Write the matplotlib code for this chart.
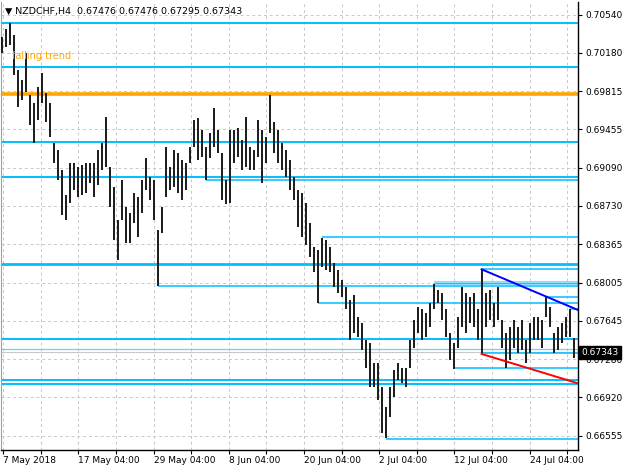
import matplotlib.pyplot as plt
from matplotlib.transforms import blended_transform_factory

plt.rcParams['font.family'] = ['DejaVu Sans']

# --- data (one bar per ~10h slot, prices in NZDCHF) ---
symbol = "NZDCHF,H4"
last_ohlc = [0.67476, 0.67476, 0.67295, 0.67343]

highs = [
    0.7033, 0.7040, 0.7046, 0.7035, 0.7002, 0.6992, 0.7018, 0.6978, 0.6970, 0.6986,
    0.6999, 0.6980, 0.6970, 0.6933, 0.6926, 0.6907, 0.6883, 0.6914, 0.6914, 0.6910,
    0.6912, 0.6914, 0.6914, 0.6914, 0.6926, 0.6933, 0.6957, 0.6910, 0.6891, 0.6860,
    0.6898, 0.6872, 0.6866, 0.6885, 0.6881, 0.6898, 0.6918, 0.6900, 0.6898, 0.6850,
    0.6872, 0.6929, 0.6910, 0.6926, 0.6923, 0.6916, 0.6914, 0.6929, 0.6954, 0.6956,
    0.6945, 0.6929, 0.6942, 0.6966, 0.6945, 0.6923, 0.6898, 0.6945, 0.6945, 0.6947,
    0.6935, 0.6957, 0.6929, 0.6926, 0.6954, 0.6945, 0.6938, 0.6978, 0.6952, 0.6945,
    0.6933, 0.6926, 0.6916, 0.6900, 0.6888, 0.6885, 0.6876, 0.6857, 0.6834, 0.6831,
    0.6843, 0.6841, 0.6834, 0.6819, 0.6812, 0.6803, 0.6796, 0.6784, 0.6789, 0.6768,
    0.6762, 0.6746, 0.6743, 0.6724, 0.6724, 0.6702, 0.6683, 0.6702, 0.6718, 0.6724,
    0.6720, 0.6720, 0.6746, 0.6765, 0.6777, 0.6775, 0.6772, 0.6781, 0.6799, 0.6793,
    0.6791, 0.6775, 0.6753, 0.6743, 0.6768, 0.6796, 0.6791, 0.6787, 0.6791, 0.6775,
    0.6813, 0.6791, 0.6793, 0.6781, 0.6796, 0.6765, 0.6753, 0.6758, 0.6765, 0.6758,
    0.6765, 0.6746, 0.6762, 0.6768, 0.6768, 0.6765, 0.6787, 0.6777, 0.6753, 0.6758,
    0.6762, 0.6768, 0.6775, 0.67476,
]
lows = [
    0.7018, 0.7023, 0.7025, 0.6997, 0.6967, 0.6973, 0.6981, 0.6950, 0.6933, 0.6954,
    0.6970, 0.6952, 0.6938, 0.6914, 0.6898, 0.6864, 0.6860, 0.6876, 0.6888, 0.6881,
    0.6883, 0.6885, 0.6895, 0.6881, 0.6893, 0.6907, 0.6910, 0.6872, 0.6841, 0.6822,
    0.6860, 0.6838, 0.6838, 0.6857, 0.6844, 0.6866, 0.6888, 0.6879, 0.6860, 0.6797,
    0.6847, 0.6881, 0.6888, 0.6891, 0.6885, 0.6879, 0.6888, 0.6914, 0.6929, 0.6916,
    0.6919, 0.6898, 0.6918, 0.6929, 0.6923, 0.6879, 0.6875, 0.6876, 0.6914, 0.6919,
    0.6907, 0.6910, 0.6907, 0.6907, 0.6919, 0.6895, 0.6914, 0.6942, 0.6923, 0.6914,
    0.6907, 0.6900, 0.6888, 0.6879, 0.6853, 0.6844, 0.6836, 0.6825, 0.6810, 0.6781,
    0.6815, 0.6812, 0.6810, 0.6796, 0.6791, 0.6787, 0.6775, 0.6746, 0.6753, 0.6749,
    0.6737, 0.6720, 0.6702, 0.6702, 0.6689, 0.6658, 0.6653, 0.6673, 0.6692, 0.6708,
    0.6705, 0.6702, 0.6720, 0.6739, 0.6753, 0.6746, 0.6749, 0.6758, 0.6775, 0.6781,
    0.6765, 0.6749, 0.6727, 0.6719, 0.6739, 0.6758, 0.6753, 0.6762, 0.6758, 0.6746,
    0.6734, 0.6758, 0.6765, 0.6758, 0.6765, 0.6739, 0.6720, 0.6727, 0.6739, 0.6734,
    0.6737, 0.6724, 0.6734, 0.6746, 0.6746, 0.6739, 0.6768, 0.6758, 0.6734, 0.6737,
    0.6743, 0.6749, 0.6749, 0.67295,
]

price_ticks = [0.70540, 0.70180, 0.69815, 0.69455, 0.69090, 0.68730,
               0.68365, 0.68005, 0.67645, 0.67280, 0.66920, 0.66555]
date_labels = ["7 May 2018", "17 May 04:00", "29 May 04:00", "8 Jun 04:00",
               "20 Jun 04:00", "2 Jul 04:00", "12 Jul 04:00", "24 Jul 04:00"]

# horizontal levels across the whole chart
full_levels = [0.70459, 0.70048, 0.69335, 0.69007, 0.68176, 0.67472, 0.67087, 0.67044]
# levels drawn from a given bar to the right edge
ray_prices = [0.68975, 0.68433, 0.68130, 0.67974, 0.67865, 0.67808, 0.67752, 0.67335, 0.67193, 0.66527]
ray_start = [51, 80, 120, 39, 136, 79, 142, 120, 113, 96]
marked_level = (0.67996, 108)
key_level = 0.69785
bid_line = 0.67374

# channel lines (bar, price) -> (bar, price)
upper_trend = [(120, 0.68130), (144.1, 0.67745)]
lower_trend = [(120, 0.67329), (144.1, 0.67051)]

# --- figure ---
fig = plt.figure(figsize=(6.25, 4.69), dpi=100)
ax = fig.add_axes([1 / 625, 19 / 469, 577 / 625, 448 / 469])

x_left, x_right = -0.125, 144.1
ax.set_xlim(x_left, x_right)
ax.set_ylim(0.66420, 0.70660)

# grid
grid_x = [0.425 + 9.4 * k for k in range(16)]
for gx in grid_x:
    ax.axvline(gx, color='#c8c8c8', lw=0.7, ls=(0, (3, 3)), zorder=0)
for py in price_ticks:
    ax.axhline(py, color='#c8c8c8', lw=0.7, ls=(0, (3, 3)), zorder=0)

# levels
for p in full_levels:
    ax.hlines(p, x_left, x_right, color='#00bfff', lw=2.0 if p == 0.68176 else 1.4, zorder=2)
for p, s in zip(ray_prices, ray_start):
    ax.hlines(p, s, x_right, color='#00bfff', lw=1.1, zorder=2)
ax.hlines(marked_level[0], marked_level[1], x_right, color='#8fdcfb', lw=3.0, zorder=2)
ax.hlines(marked_level[0], marked_level[1], x_right, color='#00bfff', lw=0.6, zorder=2)
ax.hlines(bid_line, x_left, x_right, color='#6fd0f5', lw=0.9, zorder=2)
ax.hlines(last_ohlc[3], x_left, x_right, color='#c8c8c8', lw=0.8, zorder=1)
ax.axhline(key_level, color='#ffa500', lw=2.6, zorder=2)

# price bars
bars_x = list(range(len(highs)))
ax.vlines(bars_x, lows, highs, color='#1a1a1a', lw=1.4, zorder=3)

# channel
ax.plot([p[0] for p in upper_trend], [p[1] for p in upper_trend], color='#0000ff', lw=1.4, zorder=4)
ax.plot([p[0] for p in lower_trend], [p[1] for p in lower_trend], color='#ff0000', lw=1.4, zorder=4)

ax.text(2.6, 0.70149, "falling trend", color='#ffa500', fontsize=7, va='center', ha='left', zorder=5)

# axes styling
ax.yaxis.tick_right()
ax.set_yticks(price_ticks)
ax.set_yticklabels([f"{p:.5f}" for p in price_ticks])
ax.set_xticks(grid_x[::2])
ax.set_xticklabels(date_labels, ha='left')
ax.set_xticks(grid_x[1::2], minor=True)
ax.tick_params(axis='both', which='both', direction='out', length=3, width=0.8,
               labelsize=6.5, pad=1.5, colors='black')
ax.tick_params(axis='y', pad=2)

for side in ['right', 'bottom']:
    ax.spines[side].set_color('black')
    ax.spines[side].set_linewidth(1.0)
ax.spines['left'].set_color('#a0a0a0')
ax.spines['top'].set_visible(False)

# current price tag
trans = blended_transform_factory(ax.transAxes, ax.transData)
ax.text(1.006, last_ohlc[3], f"{last_ohlc[3]:.5f}", transform=trans, color='white',
        fontsize=6.5, va='center', ha='left', zorder=6, clip_on=False,
        bbox=dict(facecolor='black', edgecolor='black', pad=1.4))

header = "\u25bc " + symbol + "  " + " ".join(f"{v:.5f}" for v in last_ohlc)
fig.text(5 / 625, 1 - 11 / 469, header, fontsize=6.8, va='center', ha='left')

fig.savefig("out.png", dpi=100)
